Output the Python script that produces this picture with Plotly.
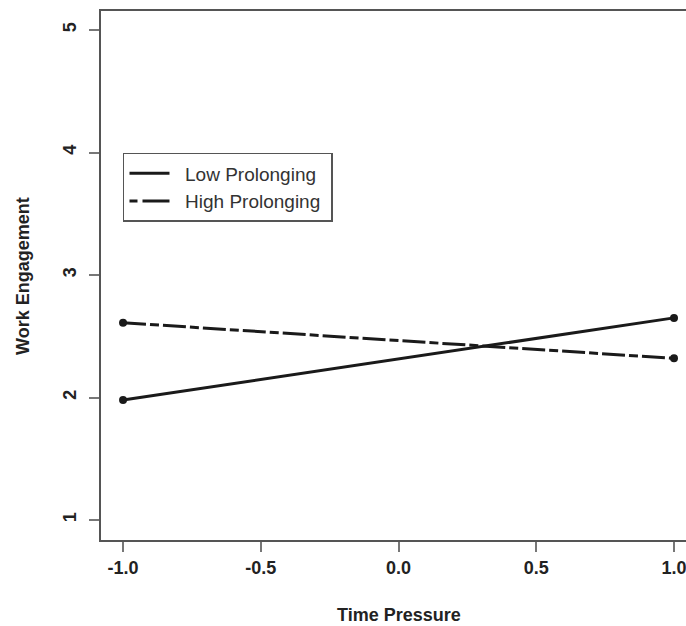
import plotly.graph_objects as go

time_pressure = [-1.0, 1.0]
low_prolonging = [1.98, 2.65]
high_prolonging = [2.61, 2.32]
series_names = ["Low Prolonging", "High Prolonging"]
x_ticks = [-1.0, -0.5, 0.0, 0.5, 1.0]
x_tick_labels = ["-1.0", "-0.5", "0.0", "0.5", "1.0"]
y_ticks = [1, 2, 3, 4, 5]

ink = "#1a1a1a"
dashes = ["solid", "23px,4px,9px,4px"]
fig = go.Figure()
for name, vals, dash in zip(series_names, [low_prolonging, high_prolonging], dashes):
    fig.add_trace(go.Scatter(
        x=time_pressure, y=vals, name=name, showlegend=False,
        mode="lines+markers", line=dict(color=ink, width=3, dash=dash),
        marker=dict(size=8, color=ink),
    ))
# legend-only entries (lines without markers)
for name, dash in zip(series_names, ["solid", "8px,5px,30px"]):
    fig.add_trace(go.Scatter(
        x=[None], y=[None], name="\u00a0\u00a0" + name + "\u00a0", mode="lines",
        line=dict(color=ink, width=3, dash=dash),
    ))

font_fam = "Liberation Sans, Arial, sans-serif"
fig.update_layout(
    width=686, height=626,
    margin=dict(l=101, r=0, t=11, b=86),
    paper_bgcolor="white", plot_bgcolor="white",
    showlegend=True,
    legend=dict(
        x=0.0376, y=0.7316, xanchor="left", yanchor="top",
        bordercolor="#555", borderwidth=1.5, bgcolor="white",
        font=dict(family=font_fam, size=19, color="#333"),
        tracegroupgap=0, itemwidth=40,
    ),
    xaxis=dict(
        range=[-1.08, 1.0436], tickvals=x_ticks, ticktext=x_tick_labels,
        showgrid=False, zeroline=False, showline=True, mirror=True,
        linecolor="#555", linewidth=2, ticks="outside", ticklen=10, tickwidth=2,
        tickcolor="#777", ticklabeloverflow="allow",
        tickfont=dict(family=font_fam, size=18, color="#222", weight="bold"),
    ),
    yaxis=dict(
        range=[0.837, 5.155], tickvals=y_ticks,
        showgrid=False, zeroline=False, showline=True, mirror=False,
        linecolor="#555", linewidth=2, ticks="outside", ticklen=10, tickwidth=2,
        tickcolor="#777", tickangle=-90, ticklabelstandoff=6,
        tickfont=dict(family=font_fam, size=18, color="#222", weight="bold"),
    ),
    annotations=[
        dict(text="<b>Time Pressure</b>", x=0.0, xref="x", y=-0.1418, yref="paper",
             xanchor="center", yanchor="middle", showarrow=False,
             font=dict(family=font_fam, size=18, color="#222")),
        dict(text="<b>Work Engagement</b>", x=-0.1342, xref="paper", y=0.5, yref="paper",
             xanchor="center", yanchor="middle", showarrow=False, textangle=-90,
             font=dict(family=font_fam, size=18, color="#222")),
    ],
)

fig.write_html("out.html", config={"displayModeBar": False},
               post_script="document.body.style.margin='0';")
